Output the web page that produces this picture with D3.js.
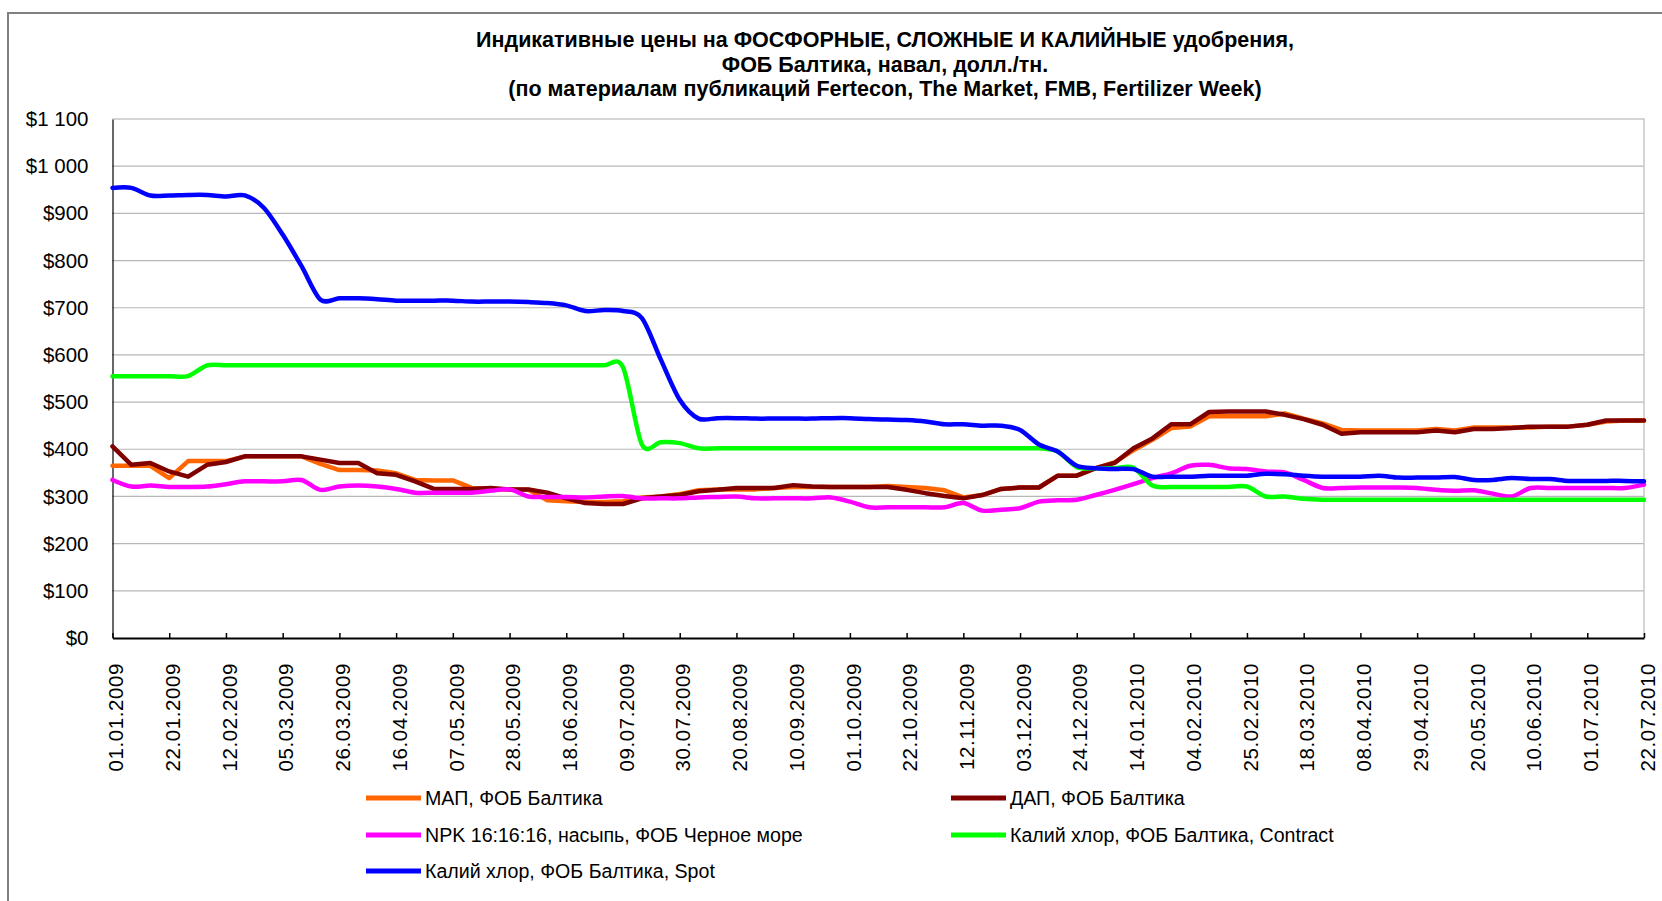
<!DOCTYPE html>
<html>
<head>
<meta charset="utf-8">
<script src="https://cdnjs.cloudflare.com/ajax/libs/d3/7.8.5/d3.min.js"></script>
<style>
  html, body { margin: 0; padding: 0; background: #fff; }
  svg { display: block; font-family: "Liberation Sans", Arial, sans-serif; }
</style>
</head>
<body>
<svg id="chart" width="1662" height="901"></svg>
<script>
// подписи оси X (каждая третья неделя)
var tickLabels = ['01.01.2009','22.01.2009','12.02.2009','05.03.2009','26.03.2009','16.04.2009',
  '07.05.2009','28.05.2009','18.06.2009','09.07.2009','30.07.2009','20.08.2009','10.09.2009',
  '01.10.2009','22.10.2009','12.11.2009','03.12.2009','24.12.2009','14.01.2010','04.02.2010',
  '25.02.2010','18.03.2010','08.04.2010','29.04.2010','20.05.2010','10.06.2010','01.07.2010',
  '22.07.2010'];
var weeksCount = 82;
var yTicks = [0, 100, 200, 300, 400, 500, 600, 700, 800, 900, 1000, 1100];

var titleLines = [
  'Индикативные цены на ФОСФОРНЫЕ, СЛОЖНЫЕ И КАЛИЙНЫЕ удобрения,',
  'ФОБ Балтика, навал, долл./тн.',
  '(по материалам публикаций Fertecon, The Market, FMB, Fertilizer Week)'
];

var seriesNames = ['МАП, ФОБ Балтика', 'ДАП, ФОБ Балтика', 'NPK 16:16:16, насыпь, ФОБ Черное море',
  'Калий хлор, ФОБ Балтика, Contract', 'Калий хлор, ФОБ Балтика, Spot'];

var map = [365,365,365,339,375,375,375,385,385,385,385,369,356,356,355,349,335,334,334,318,
  316,315,314,292,290,288,288,290,298,300,305,313,315,315,315,318,320,320,320,320,
  320,322,320,318,313,298,303,316,319,319,344,344,360,372,398,420,445,448,470,470,
  470,470,476,465,455,441,440,440,440,440,443,440,446,446,446,446,448,448,452,459,
  461,461];
var dap = [406,367,371,353,342,367,373,385,385,385,385,378,371,371,349,346,332,316,316,316,
  318,315,315,308,296,286,284,284,296,300,303,311,314,318,318,318,324,321,320,320,
  320,320,314,307,301,296,303,316,319,319,344,344,360,371,402,423,453,453,479,480,
  480,480,473,464,452,433,436,436,436,436,440,436,443,443,445,448,448,448,452,461,
  461,461];
var npk = [335,321,323,320,320,321,326,332,332,332,335,314,321,323,321,316,308,308,308,308,
  312,315,300,299,299,298,300,301,296,296,296,298,299,300,296,296,296,296,298,289,
  277,277,277,277,277,286,270,272,275,289,292,293,303,314,326,339,349,365,367,360,
  358,353,351,335,318,318,319,319,319,318,314,312,313,306,300,318,318,318,318,318,
  318,325];
var kclContract = [555,555,555,555,555,578,578,578,578,578,578,578,578,578,578,578,578,578,578,578,
  578,578,578,578,578,578,578,574,410,415,413,402,402,402,402,402,402,402,402,402,
  402,402,402,402,402,402,402,402,402,402,395,362,360,360,361,323,320,320,320,320,
  321,300,300,295,293,293,293,293,293,293,293,293,293,293,293,293,293,293,293,293,
  293,293];
var kclSpot = [954,954,938,938,939,939,936,938,912,855,788,717,720,720,718,715,715,715,715,713,
  713,713,712,710,705,693,695,693,678,590,505,465,466,466,465,465,465,465,466,466,
  464,463,462,459,453,453,450,450,441,410,395,365,360,358,358,342,342,342,344,344,
  344,348,347,344,342,342,342,344,340,340,340,341,335,335,339,337,337,333,333,333,
  333,332];

var seriesColors = ['#ff6600', '#800000', '#ff00ff', '#00ff00', '#0000ff'];
var seriesData = [map, dap, npk, kclContract, kclSpot];

var width = 1662, height = 901;
var plot = {left: 112.5, right: 1644, top: 119, bottom: 638};

var svg = d3.select('#chart');

// рамка области диаграммы
svg.append('rect')
  .attr('x', 8).attr('y', 13)
  .attr('width', width + 20).attr('height', height + 20)
  .attr('fill', '#fff')
  .attr('stroke', '#808080')
  .attr('stroke-width', 2);

var x = d3.scaleLinear().domain([0, weeksCount - 1]).range([plot.left, plot.right]);
var y = d3.scaleLinear().domain([0, 1100]).range([plot.bottom, plot.top]);

// заголовок
svg.append('g').selectAll('text')
  .data(titleLines)
  .enter().append('text')
  .attr('x', 885)
  .attr('y', function(d, i) { return 47 + i * 24.5; })
  .attr('text-anchor', 'middle')
  .attr('font-size', 21.5)
  .attr('font-weight', 'bold')
  .attr('fill', '#000')
  .text(function(d) { return d; });

// сетка
svg.append('g').selectAll('line')
  .data(yTicks.filter(function(v) { return v > 0 && v < 1100; }))
  .enter().append('line')
  .attr('x1', plot.left).attr('x2', plot.right)
  .attr('y1', function(d) { return y(d); })
  .attr('y2', function(d) { return y(d); })
  .attr('stroke', '#6f6f6f')
  .attr('stroke-width', 1.2)
  .attr('stroke-dasharray', '1,1');

// верхняя и правая граница области построения
svg.append('path')
  .attr('d', 'M' + plot.left + ',' + plot.top + 'H' + plot.right + 'V' + plot.bottom)
  .attr('fill', 'none')
  .attr('stroke', '#c8c8c8')
  .attr('stroke-width', 1.5);

var fmt = function(v) {
  if (v >= 1000) return '$' + Math.floor(v / 1000) + ' ' + d3.format('03d')(v % 1000);
  return '$' + v;
};

var yAxis = svg.append('g')
  .attr('transform', 'translate(' + plot.left + ',0)')
  .call(d3.axisLeft(y).tickValues(yTicks).tickSize(0).tickPadding(24).tickFormat(fmt));
yAxis.select('.domain').attr('stroke', '#000').attr('stroke-width', 1.2);
yAxis.selectAll('text')
  .attr('font-family', '"Liberation Sans", Arial, sans-serif')
  .attr('font-size', 20.5)
  .attr('fill', '#000');

var tickIdx = d3.range(0, weeksCount, 3);
var xAxis = svg.append('g')
  .attr('transform', 'translate(0,' + plot.bottom + ')')
  .call(d3.axisBottom(x).tickValues(tickIdx).tickSizeInner(-5).tickSizeOuter(0)
    .tickFormat(function(d, i) { return tickLabels[i]; }));
xAxis.select('.domain').attr('stroke', '#000').attr('stroke-width', 2.2);
xAxis.selectAll('.tick line').attr('stroke', '#000').attr('stroke-width', 1.5);
xAxis.selectAll('text')
  .attr('font-family', '"Liberation Sans", Arial, sans-serif')
  .attr('font-size', 20.5)
  .attr('letter-spacing', 0.6)
  .attr('fill', '#000')
  .attr('transform', 'rotate(-90)')
  .attr('text-anchor', 'end')
  .attr('x', -25)
  .attr('y', 3)
  .attr('dy', '0.35em');

// линии рядов
var smooth = [false, false, true, true, true];
var linesG = svg.append('g');
seriesData.forEach(function(values, k) {
  var line = d3.line()
    .x(function(d, i) { return x(i); })
    .y(function(d) { return y(d); })
    .curve(smooth[k] ? d3.curveCardinal.tension(0.1) : d3.curveLinear);
  linesG.append('path')
    .datum(values)
    .attr('d', line)
    .attr('fill', 'none')
    .attr('stroke', seriesColors[k])
    .attr('stroke-width', 4.5)
    .attr('stroke-linejoin', 'round')
    .attr('stroke-linecap', 'round');
});

// легенда
var legendPos = [[366, 798], [951, 798], [366, 835], [951, 835], [366, 871]];
var legend = svg.append('g').selectAll('g')
  .data(seriesNames)
  .enter().append('g')
  .attr('transform', function(d, i) { return 'translate(' + legendPos[i][0] + ',' + legendPos[i][1] + ')'; });
legend.append('line')
  .attr('x1', 0).attr('x2', 55)
  .attr('stroke', function(d, i) { return seriesColors[i]; })
  .attr('stroke-width', 5);
legend.append('text')
  .attr('x', 59)
  .attr('dy', '0.35em')
  .attr('font-size', 19.6)
  .attr('fill', '#000')
  .text(function(d) { return d; });
</script>
</body>
</html>
